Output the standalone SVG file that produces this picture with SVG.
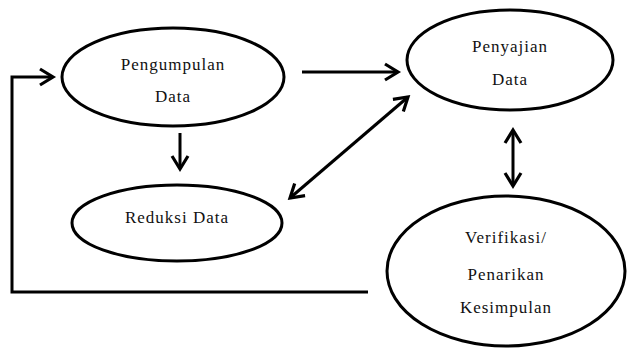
<svg xmlns="http://www.w3.org/2000/svg" width="627" height="349" viewBox="0 0 627 349">
<style>
.node ellipse{fill:#fff;stroke:#000;stroke-width:3}
.conn path{fill:none;stroke:#000;stroke-width:3}
</style>
<defs>
<marker id="ah" markerUnits="userSpaceOnUse" markerWidth="22" markerHeight="22" viewBox="-17 -11 22 22" refX="0" refY="0" orient="auto-start-reverse">
<path d="M-13,-8 L0,0 L-13,8" fill="none" stroke="#000" stroke-width="3.2" stroke-linejoin="miter"/>
</marker>
</defs>
<rect width="627" height="349" fill="#fff"/>
<g class="conn">
<path d="M368 292 H12 V77 H53" marker-end="url(#ah)"/>
<path d="M302 72 H398" marker-end="url(#ah)"/>
<path d="M180 133 V169" marker-end="url(#ah)"/>
<path d="M290 198 L408 97" marker-start="url(#ah)" marker-end="url(#ah)"/>
<path d="M513 130 V186" marker-start="url(#ah)" marker-end="url(#ah)"/>
</g>
<g font-family="Liberation Serif, DejaVu Serif, serif" font-size="17" fill="#111" text-anchor="middle" letter-spacing="1">
<g id="pengumpulan" class="node">
<ellipse cx="173" cy="77" rx="111" ry="49"/>
<text x="173" y="70">Pengumpulan</text>
<text x="173" y="102">Data</text>
</g>
<g id="penyajian" class="node">
<ellipse cx="510" cy="60" rx="103" ry="50"/>
<text x="510" y="52">Penyajian</text>
<text x="510" y="85">Data</text>
</g>
<g id="reduksi" class="node">
<ellipse cx="177" cy="223" rx="105" ry="38"/>
<text x="177" y="223">Reduksi Data</text>
</g>
<g id="verifikasi" class="node">
<ellipse cx="506" cy="271" rx="119" ry="75"/>
<text x="506" y="243">Verifikasi/</text>
<text x="506" y="280">Penarikan</text>
<text x="506" y="313">Kesimpulan</text>
</g>
</g>
</svg>
